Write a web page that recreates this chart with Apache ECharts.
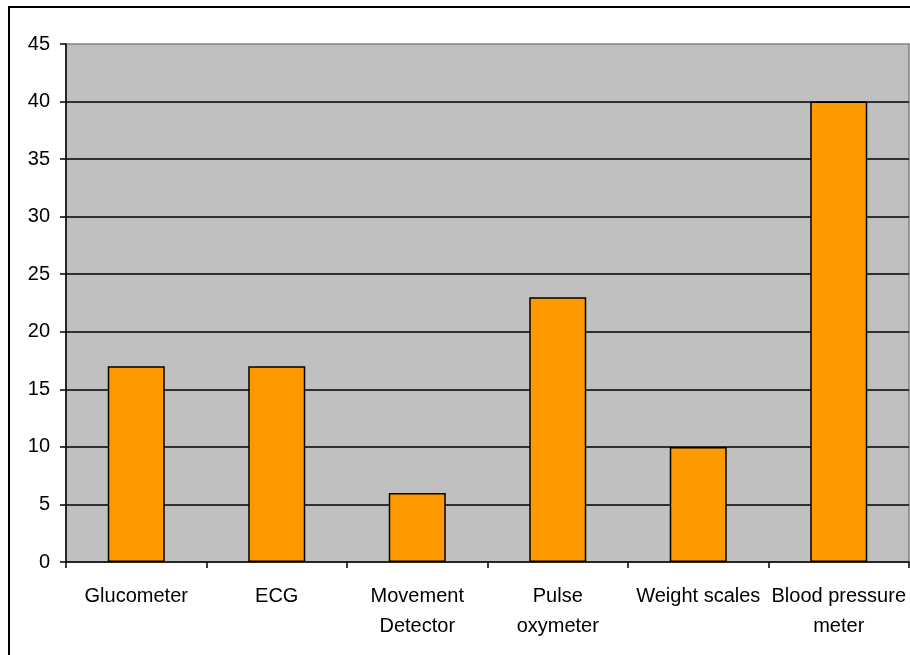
<!DOCTYPE html>
<html>
<head>
<meta charset="utf-8">
<script src="https://cdn.jsdelivr.net/npm/echarts@6/dist/echarts.min.js"></script>
<style>
  html, body { margin: 0; padding: 0; background: #ffffff; }
  #chart { width: 910px; height: 655px; }
</style>
</head>
<body>
<div id="chart"></div>
<script>
// Device categories (line breaks as shown under the axis)
const categories = [
  'Glucometer',
  'ECG',
  'Movement\nDetector',
  'Pulse\noxymeter',
  'Weight scales',
  'Blood pressure\nmeter'
];

// Count per device
const counts = [17, 17, 6, 23, 10, 40];

// Value axis range
const yMin = 0;
const yMax = 45;
const yStep = 5;

const FONT = '"Liberation Sans", Arial, sans-serif';

const chart = echarts.init(document.getElementById('chart'), null, { renderer: 'canvas' });

chart.setOption({
  animation: false,
  backgroundColor: '#ffffff',
  graphic: [{
    type: 'rect',
    shape: { x: 9, y: 7, width: 1000, height: 1000 },
    style: { fill: 'none', stroke: '#000000', lineWidth: 2 },
    silent: true,
    z: 100
  }],
  grid: {
    left: 66,
    top: 44,
    right: 1,
    bottom: 93,
    show: true,
    backgroundColor: '#c0c0c0',
    borderColor: '#808080',
    borderWidth: 1.5
  },
  xAxis: {
    type: 'category',
    data: categories,
    boundaryGap: true,
    axisLine: { show: true, lineStyle: { color: '#000000', width: 1.5 } },
    axisTick: { show: true, length: 6, lineStyle: { color: '#000000', width: 1.5 } },
    axisLabel: {
      interval: 0,
      margin: 19,
      color: '#000000',
      fontFamily: FONT,
      fontSize: 20,
      lineHeight: 30
    },
    splitLine: { show: false }
  },
  yAxis: {
    type: 'value',
    min: yMin,
    max: yMax,
    interval: yStep,
    axisLine: { show: true, lineStyle: { color: '#000000', width: 1.5 } },
    axisTick: { show: true, length: 6, lineStyle: { color: '#000000', width: 1.5 } },
    axisLabel: {
      margin: 16,
      color: '#000000',
      fontFamily: FONT,
      fontSize: 20
    },
    splitLine: {
      show: true,
      showMinLine: false,
      showMaxLine: false,
      lineStyle: { color: '#000000', width: 1.5 }
    }
  },
  series: [{
    type: 'bar',
    data: counts,
    barWidth: 57,
    itemStyle: {
      color: '#ff9900',
      borderColor: '#000000',
      borderWidth: 1.5
    }
  }]
});
</script>
</body>
</html>
